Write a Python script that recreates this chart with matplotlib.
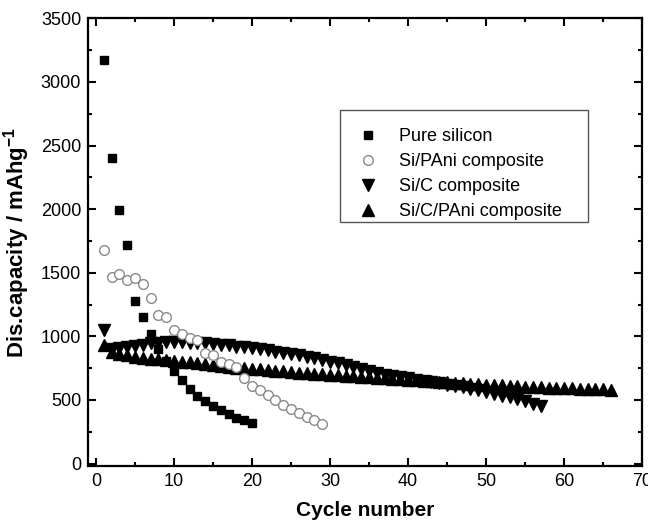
import matplotlib
matplotlib.use('Agg')
import matplotlib.pyplot as plt
from matplotlib.ticker import MultipleLocator
from matplotlib.patches import Rectangle

plt.rcParams['font.family'] = ['Liberation Sans', 'DejaVu Sans']

# Pure silicon
si_cycles = list(range(1, 21))
si_cap = [3170, 2400, 1990, 1720, 1280, 1150, 1020, 900, 810, 730,
          655, 590, 535, 490, 450, 420, 390, 360, 340, 320]

# Si/PAni composite
pani_cycles = list(range(1, 30))
pani_cap = [1680, 1470, 1490, 1440, 1460, 1410, 1300, 1170, 1150, 1050,
            1020, 990, 975, 870, 850, 800, 780, 760, 670, 610,
            580, 540, 500, 460, 430, 400, 370, 340, 310]

# Si/C composite
sic_cycles = list(range(1, 58))
sic_cap = [1050, 900, 905, 915, 925, 935, 945, 950, 955, 955,
           955, 950, 950, 945, 940, 935, 930, 920, 915, 905,
           900, 890, 880, 870, 860, 850, 840, 830, 815, 800,
           790, 775, 760, 745, 730, 715, 700, 690, 680, 670,
           660, 650, 640, 630, 620, 610, 600, 590, 580, 565,
           550, 535, 520, 505, 490, 470, 450]

# Si/C/PAni composite
sicp_cycles = list(range(1, 67))
sicp_cap = [930, 880, 860, 850, 840, 830, 825, 820, 815, 810,
            800, 795, 790, 780, 775, 770, 760, 755, 750, 745,
            740, 735, 730, 725, 720, 715, 711, 707, 703, 700,
            696, 692, 688, 684, 680, 676, 672, 668, 664, 660,
            656, 652, 648, 644, 640, 636, 632, 628, 624, 620,
            617, 614, 611, 608, 605, 602, 599, 597, 595, 593,
            591, 589, 587, 585, 583, 580]

legend_labels = ['Pure silicon', 'Si/PAni composite', 'Si/C composite', 'Si/C/PAni composite']

fig = plt.figure(figsize=(6.48, 5.22), dpi=100)
ax = fig.add_axes([0.136, 0.107, 0.855, 0.858])

h1, = ax.plot(si_cycles, si_cap, 's', ms=6, color='black', zorder=4)
h2, = ax.plot(pani_cycles, pani_cap, 'o', ms=7, mfc='white', mec='#8a8a8a', mew=1.0, zorder=3)
h3, = ax.plot(sic_cycles, sic_cap, 'v', ms=8, color='black', zorder=2)
h4, = ax.plot(sicp_cycles, sicp_cap, '^', ms=8, color='black', zorder=2)

ax.set_xlim(-1, 70)
ax.set_ylim(-20, 3500)
ax.xaxis.set_major_locator(MultipleLocator(10))
ax.xaxis.set_minor_locator(MultipleLocator(5))
ax.yaxis.set_major_locator(MultipleLocator(500))
ax.yaxis.set_minor_locator(MultipleLocator(250))
ax.tick_params(which='both', direction='in', top=True, right=True, width=1.5,
               labelsize=13, pad=5)
ax.tick_params(which='major', length=6)
ax.tick_params(which='minor', length=3)
for s in ax.spines.values():
    s.set_linewidth(1.6)

ax.set_xlabel('Cycle number', fontsize=15, fontweight='bold', labelpad=8)
ax.set_ylabel('Dis.capacity / mAhg$^{\\mathregular{-1}}$', fontsize=16,
              fontweight='bold', labelpad=6)

# legend frame (drawn in figure inches)
box = Rectangle((3.40, (522 - 222) / 100), 2.48, 1.12, transform=fig.dpi_scale_trans,
                fill=False, lw=1.0, ec='#555555')
fig.patches.append(box)

ax.legend([h1, h2, h3, h4], legend_labels, loc='upper left',
          bbox_to_anchor=(0.554, 0.755), bbox_transform=fig.transFigure,
          frameon=False, fontsize=13, handlelength=1.0, handletextpad=1.2,
          labelspacing=0.45, borderpad=0, borderaxespad=0)

plt.savefig('out.png', dpi=100)
